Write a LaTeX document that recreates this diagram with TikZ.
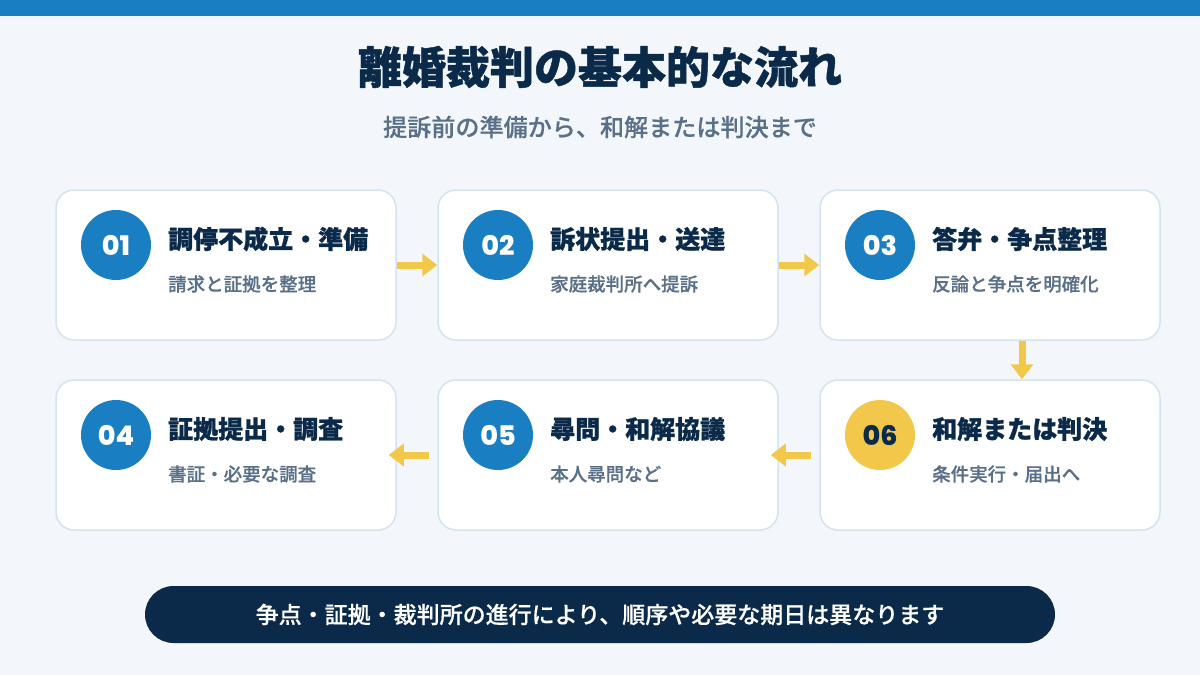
\documentclass[tikz,border=0pt]{standalone}
\usepackage{fontspec}
\usetikzlibrary{arrows.meta}
\setmainfont{Noto Sans CJK JP}
\IfFontExistsTF{Noto Sans CJK JP Black}
  {\newfontfamily\heavyfont{Noto Sans CJK JP Black}[FakeBold=1]}
  {\IfFontExistsTF{Noto Sans CJK JP Bold}
    {\newfontfamily\heavyfont{Noto Sans CJK JP Bold}[FakeBold=2]}
    {\newfontfamily\heavyfont{Noto Sans CJK JP}[FakeBold=3.5]}}
\IfFontExistsTF{Noto Sans CJK JP Medium}
  {\newfontfamily\midfont{Noto Sans CJK JP Medium}[FakeBold=0.4]}
  {\newfontfamily\midfont{Noto Sans CJK JP}[FakeBold=0.9]}
\IfFontExistsTF{Poppins ExtraBold}
  {\newfontfamily\numfont{Poppins ExtraBold}}
  {\IfFontExistsTF{Poppins Bold}
    {\newfontfamily\numfont{Poppins Bold}[FakeBold=1]}
    {\newfontfamily\numfont{Poppins}[FakeBold=2.5]}}
\definecolor{topblue}{HTML}{1A7FC2}
\definecolor{paper}{HTML}{F3F7FB}
\definecolor{cardline}{HTML}{D5E3EF}
\definecolor{navy}{HTML}{0B2A4A}
\definecolor{slate}{HTML}{5A7088}
\definecolor{gold}{HTML}{F2C84B}

\begin{document}
\begin{tikzpicture}[x=1pt, y=-1pt,
  card/.style={draw=cardline, line width=1.5pt, fill=white, rounded corners=18pt,
    minimum width=340pt, minimum height=150pt, inner sep=0pt},
  num/.style={circle, fill=topblue, minimum size=70pt, inner sep=0pt, text=white,
    font=\numfont\fontsize{27}{27}\selectfont},
  ttl/.style={anchor=west, inner sep=0pt, text=navy, font=\heavyfont\fontsize{25}{25}\selectfont},
  sub/.style={anchor=west, inner sep=0pt, text=slate, font=\midfont\fontsize{18.5}{18.5}\selectfont},
  flow/.style={draw=gold, line width=7pt, -{Triangle[length=15pt, width=22pt, fill=gold]}}]
  \fill[paper] (0,0) rectangle (1200,675);
  \fill[topblue] (0,0) rectangle (1200,16);

  \node[text=navy, font=\heavyfont\fontsize{44}{44}\selectfont] (title) at (600,67) {離婚裁判の基本的な流れ};
  \node[text=slate, font=\midfont\fontsize{24.1}{24.1}\selectfont] (subtitle) at (600,127) {提訴前の準備から、和解または判決まで};

  % upper row
  \node[card] (c1) at (226,265) {};
  \node[card] (c2) at (608,265) {};
  \node[card] (c3) at (990,265) {};
  \node[num] (n1) at (116,245) {01};
  \node[num] (n2) at (498,245) {02};
  \node[num] (n3) at (880,245) {03};
  \node[ttl] (t1) at (168,239) {調停不成立・準備};
  \node[ttl] (t2) at (550,239) {訴状提出・送達};
  \node[ttl] (t3) at (932,239) {答弁・争点整理};
  \node[sub] (s1) at (168,284) {請求と証拠を整理};
  \node[sub] (s2) at (550,284) {家庭裁判所へ提訴};
  \node[sub] (s3) at (932,284) {反論と争点を明確化};

  % lower row
  \node[card] (c4) at (226,455) {};
  \node[card] (c5) at (608,455) {};
  \node[card] (c6) at (990,455) {};
  \node[num] (n4) at (116,435) {04};
  \node[num] (n5) at (498,435) {05};
  \node[num, fill=gold, text=navy] (n6) at (880,435) {06};
  \node[ttl] (t4) at (168,429) {証拠提出・調査};
  \node[ttl] (t5) at (550,429) {尋問・和解協議};
  \node[ttl] (t6) at (932,429) {和解または判決};
  \node[sub] (s4) at (168,474) {書証・必要な調査};
  \node[sub] (s5) at (550,474) {本人尋問など};
  \node[sub] (s6) at (932,474) {条件実行・届出へ};

  \draw[flow] (c1.east) -- (c2.west);
  \draw[flow] (c2.east) -- (c3.west);
  \draw[flow] ([xshift=32pt]c3.south) -- ([xshift=32pt]c6.north);
  \draw[flow] ([xshift=-8pt]c6.west) -- ([xshift=-8pt]c5.east);
  \draw[flow] ([xshift=-8pt]c5.west) -- ([xshift=-8pt]c4.east);

  \node[fill=navy, text=white, rounded corners=28.5pt, minimum width=910pt, minimum height=57pt,
    font=\midfont\fontsize{23}{23}\selectfont] (note) at (600,614.5)
    {争点・証拠・裁判所の進行により、順序や必要な期日は異なります};
\end{tikzpicture}
\end{document}
